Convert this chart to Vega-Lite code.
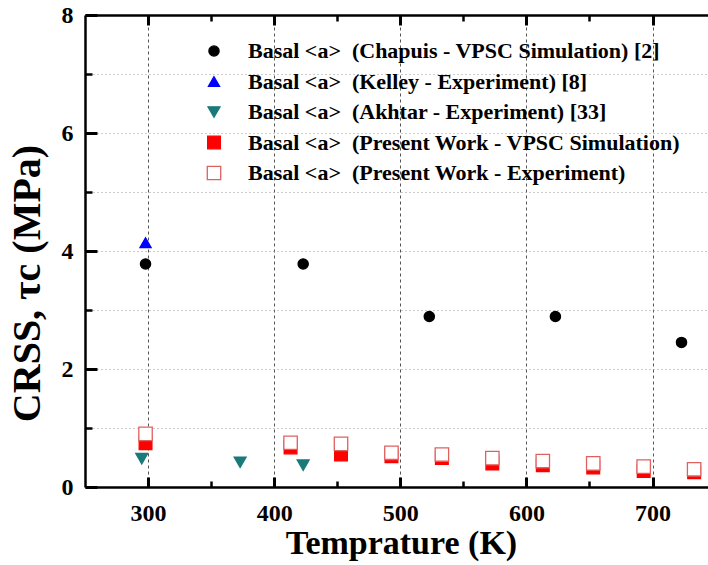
{
  "$schema": "https://vega.github.io/schema/vega-lite/v6.json",
  "width": 623,
  "height": 472,
  "autosize": {"type": "none"},
  "padding": {"left": 85, "top": 15, "right": 0, "bottom": 78},
  "background": "white",
  "config": {"view": {"stroke": null}},
  "data": {
    "values": [
      {"T": 298, "crss": 3.78, "series": "Basal <a>\u00a0 (Chapuis - VPSC Simulation) [2]"},
      {"T": 423, "crss": 3.78, "series": "Basal <a>\u00a0 (Chapuis - VPSC Simulation) [2]"},
      {"T": 523, "crss": 2.89, "series": "Basal <a>\u00a0 (Chapuis - VPSC Simulation) [2]"},
      {"T": 623, "crss": 2.89, "series": "Basal <a>\u00a0 (Chapuis - VPSC Simulation) [2]"},
      {"T": 723, "crss": 2.45, "series": "Basal <a>\u00a0 (Chapuis - VPSC Simulation) [2]"},
      {"T": 298, "crss": 4.14, "series": "Basal <a>\u00a0 (Kelley - Experiment) [8]"},
      {"T": 295, "crss": 0.48, "series": "Basal <a>\u00a0 (Akhtar - Experiment) [33]"},
      {"T": 373, "crss": 0.42, "series": "Basal <a>\u00a0 (Akhtar - Experiment) [33]"},
      {"T": 423, "crss": 0.37, "series": "Basal <a>\u00a0 (Akhtar - Experiment) [33]"},
      {"T": 298, "crss": 0.74, "series": "Basal <a>\u00a0 (Present Work - VPSC Simulation)"},
      {"T": 413, "crss": 0.67, "series": "Basal <a>\u00a0 (Present Work - VPSC Simulation)"},
      {"T": 453, "crss": 0.55, "series": "Basal <a>\u00a0 (Present Work - VPSC Simulation)"},
      {"T": 493, "crss": 0.52, "series": "Basal <a>\u00a0 (Present Work - VPSC Simulation)"},
      {"T": 533, "crss": 0.49, "series": "Basal <a>\u00a0 (Present Work - VPSC Simulation)"},
      {"T": 573, "crss": 0.40, "series": "Basal <a>\u00a0 (Present Work - VPSC Simulation)"},
      {"T": 613, "crss": 0.37, "series": "Basal <a>\u00a0 (Present Work - VPSC Simulation)"},
      {"T": 653, "crss": 0.33, "series": "Basal <a>\u00a0 (Present Work - VPSC Simulation)"},
      {"T": 693, "crss": 0.27, "series": "Basal <a>\u00a0 (Present Work - VPSC Simulation)"},
      {"T": 733, "crss": 0.25, "series": "Basal <a>\u00a0 (Present Work - VPSC Simulation)"},
      {"T": 298, "crss": 0.90, "series": "Basal <a>\u00a0 (Present Work - Experiment)"},
      {"T": 413, "crss": 0.75, "series": "Basal <a>\u00a0 (Present Work - Experiment)"},
      {"T": 453, "crss": 0.73, "series": "Basal <a>\u00a0 (Present Work - Experiment)"},
      {"T": 493, "crss": 0.58, "series": "Basal <a>\u00a0 (Present Work - Experiment)"},
      {"T": 533, "crss": 0.55, "series": "Basal <a>\u00a0 (Present Work - Experiment)"},
      {"T": 573, "crss": 0.49, "series": "Basal <a>\u00a0 (Present Work - Experiment)"},
      {"T": 613, "crss": 0.44, "series": "Basal <a>\u00a0 (Present Work - Experiment)"},
      {"T": 653, "crss": 0.40, "series": "Basal <a>\u00a0 (Present Work - Experiment)"},
      {"T": 693, "crss": 0.345, "series": "Basal <a>\u00a0 (Present Work - Experiment)"},
      {"T": 733, "crss": 0.30, "series": "Basal <a>\u00a0 (Present Work - Experiment)"}
    ]
  },
  "resolve": {"axis": {"x": "independent", "y": "independent"}},
  "layer": [
    {
      "mark": {"type": "point", "filled": true, "strokeWidth": 1.3, "opacity": 1},
      "encoding": {
        "x": {
          "field": "T", "type": "quantitative",
          "scale": {"domain": [250, 744], "nice": false, "zero": false},
          "axis": {
            "orient": "bottom",
            "values": [300, 400, 500, 600, 700],
            "labelFont": "Liberation Serif", "labelFontSize": 24, "labelFontWeight": "bold", "labelColor": "black",
            "labelBaseline": "alphabetic", "labelPadding": 33,
            "ticks": false,
            "grid": true, "gridColor": "#555555", "gridDash": [3, 3], "gridWidth": 1,
            "domainColor": "black", "domainWidth": 2.5,
            "title": "Temprature (K)",
            "titleFont": "Liberation Serif", "titleFontSize": 34, "titleFontWeight": "bold", "titleColor": "black",
            "titleBaseline": "alphabetic", "titleX": 316, "titleY": 66
          }
        },
        "y": {
          "field": "crss", "type": "quantitative",
          "scale": {"domain": [0, 8], "nice": false, "zero": true},
          "axis": {
            "orient": "left",
            "values": [0, 1, 2, 3, 4, 5, 6, 7, 8],
            "labelExpr": "datum.value % 2 === 0 ? datum.label : ''",
            "labelFont": "Liberation Serif", "labelFontSize": 24, "labelFontWeight": "bold", "labelColor": "black",
            "labelPadding": 12,
            "ticks": false,
            "grid": true, "gridColor": "#999999", "gridDash": [1, 3], "gridWidth": 1,
            "domainColor": "black", "domainWidth": 2.5,
            "title": "CRSS, \u03c4c (MPa)",
            "titleFont": "Liberation Serif", "titleFontSize": 40, "titleFontWeight": "bold", "titleColor": "black",
            "titleBaseline": "alphabetic", "titleX": -46, "titleY": 268
          }
        },
        "shape": {
          "field": "series", "type": "nominal",
          "scale": {
            "domain": ["Basal <a>\u00a0 (Chapuis - VPSC Simulation) [2]", "Basal <a>\u00a0 (Kelley - Experiment) [8]", "Basal <a>\u00a0 (Akhtar - Experiment) [33]", "Basal <a>\u00a0 (Present Work - VPSC Simulation)", "Basal <a>\u00a0 (Present Work - Experiment)"],
            "range": ["circle", "triangle-up", "triangle-down", "square", "square"]
          },
          "legend": {
            "orient": "none", "legendX": 118, "legendY": 25, "title": null, "padding": 0,
            "labelFont": "Liberation Serif", "labelFontSize": 22, "labelFontWeight": "bold", "labelColor": "black",
            "labelOffset": 23, "rowPadding": 8.5, "symbolStrokeWidth": 1.3, "labelLimit": 600
          }
        },
        "fill": {
          "field": "series", "type": "nominal",
          "scale": {
            "domain": ["Basal <a>\u00a0 (Chapuis - VPSC Simulation) [2]", "Basal <a>\u00a0 (Kelley - Experiment) [8]", "Basal <a>\u00a0 (Akhtar - Experiment) [33]", "Basal <a>\u00a0 (Present Work - VPSC Simulation)", "Basal <a>\u00a0 (Present Work - Experiment)"],
            "range": ["#000000", "#0000ff", "#1a7a7a", "#ff0000", "#ffffff"]
          }
        },
        "stroke": {
          "field": "series", "type": "nominal",
          "scale": {
            "domain": ["Basal <a>\u00a0 (Chapuis - VPSC Simulation) [2]", "Basal <a>\u00a0 (Kelley - Experiment) [8]", "Basal <a>\u00a0 (Akhtar - Experiment) [33]", "Basal <a>\u00a0 (Present Work - VPSC Simulation)", "Basal <a>\u00a0 (Present Work - Experiment)"],
            "range": ["#000000", "#0000ff", "#1a7a7a", "#ff0000", "#e06060"]
          }
        },
        "size": {
          "field": "series", "type": "nominal",
          "scale": {
            "domain": ["Basal <a>\u00a0 (Chapuis - VPSC Simulation) [2]", "Basal <a>\u00a0 (Kelley - Experiment) [8]", "Basal <a>\u00a0 (Akhtar - Experiment) [33]", "Basal <a>\u00a0 (Present Work - VPSC Simulation)", "Basal <a>\u00a0 (Present Work - Experiment)"],
            "range": [105, 180, 190, 85, 85]
          }
        }
      }
    },
    {
      "mark": {"type": "point", "opacity": 0},
      "encoding": {
        "x": {
          "field": "T", "type": "quantitative",
          "axis": {"orient": "bottom", "offset": -10, "values": [300, 400, 500, 600, 700], "labels": false, "tickSize": 10, "tickColor": "black", "tickWidth": 3, "grid": false, "domain": false, "title": null}
        },
        "y": {
          "field": "crss", "type": "quantitative",
          "axis": {"orient": "left", "offset": -12, "values": [0, 2, 4, 6, 8], "labels": false, "tickSize": 12, "tickColor": "black", "tickWidth": 3, "grid": false, "domain": false, "title": null}
        }
      }
    },
    {
      "mark": {"type": "point", "opacity": 0},
      "encoding": {
        "x": {
          "field": "T", "type": "quantitative",
          "axis": {"orient": "bottom", "offset": -6, "values": [350, 450, 550, 650], "labels": false, "tickSize": 6, "tickColor": "black", "tickWidth": 2.5, "grid": false, "domain": false, "title": null}
        },
        "y": {
          "field": "crss", "type": "quantitative",
          "axis": {"orient": "left", "offset": -7, "values": [1, 3, 5, 7], "labels": false, "tickSize": 7, "tickColor": "black", "tickWidth": 2.5, "grid": false, "domain": false, "title": null}
        }
      }
    },
    {
      "mark": {"type": "point", "opacity": 0},
      "encoding": {
        "x": {
          "field": "T", "type": "quantitative",
          "axis": {"orient": "top", "offset": -10, "values": [300, 400, 500, 600, 700], "labels": false, "tickSize": 10, "tickColor": "black", "tickWidth": 3, "grid": false, "domain": false, "title": null}
        }
      }
    },
    {
      "mark": {"type": "point", "opacity": 0},
      "encoding": {
        "x": {
          "field": "T", "type": "quantitative",
          "axis": {"orient": "top", "offset": -6, "values": [350, 450, 550, 650], "labels": false, "tickSize": 6, "tickColor": "black", "tickWidth": 2.5, "grid": false, "domain": false, "title": null}
        }
      }
    },
    {
      "mark": {"type": "point", "opacity": 0},
      "encoding": {
        "x": {
          "field": "T", "type": "quantitative",
          "axis": {"orient": "top", "values": [], "labels": false, "ticks": false, "grid": false, "domain": true, "domainColor": "black", "domainWidth": 2.5, "title": null}
        }
      }
    }
  ]
}
